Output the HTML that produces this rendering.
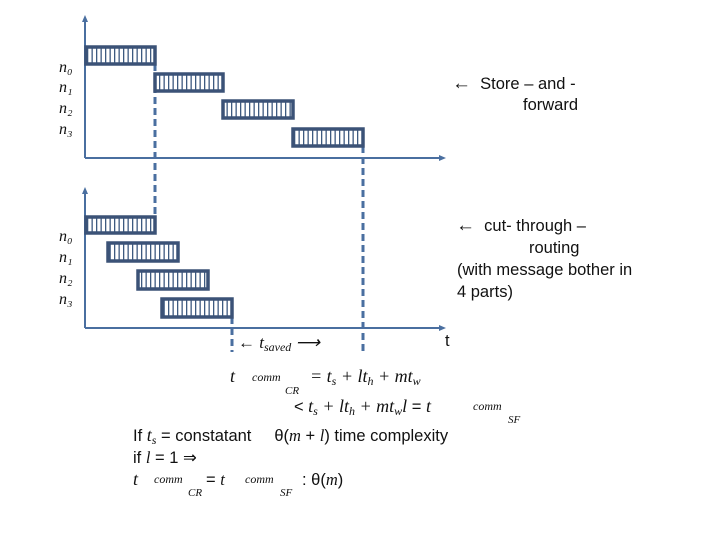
<!DOCTYPE html>
<html><head><meta charset="utf-8"><style>
html,body{margin:0;padding:0;background:#fff;}
svg{display:block}
.s{font-family:"Liberation Sans",sans-serif;font-size:16.5px;fill:#111}
.m{font-family:"Liberation Serif",serif;font-style:italic;fill:#111}
</style></head><body>
<svg width="720" height="540" viewBox="0 0 720 540" xmlns="http://www.w3.org/2000/svg">
<defs>
<pattern id="st" width="4.5" height="10" patternUnits="userSpaceOnUse">
<rect width="4.5" height="10" fill="#fff"/><rect x="1.5" width="1.3" height="10" fill="#3d5a80"/>
</pattern>
</defs>
<g stroke="#4a6fa0" stroke-width="2" fill="none">
<line x1="85" y1="20" x2="85" y2="158"/>
<line x1="85" y1="158" x2="442" y2="158"/>
<line x1="85" y1="192" x2="85" y2="328"/>
<line x1="85" y1="328" x2="442" y2="328"/>
</g>
<g fill="#4a6fa0">
<polygon points="85,15 82,22 88,22"/>
<polygon points="446,158 439,155 439,161"/>
<polygon points="85,187 82,194 88,194"/>
<polygon points="446,328 439,325 439,331"/>
</g>
<g stroke="#4a6fa0" stroke-width="3" stroke-dasharray="7,4" fill="none">
<line x1="155" y1="64" x2="155" y2="217"/>
<line x1="363" y1="146" x2="363" y2="352"/>
<line x1="232" y1="317" x2="232" y2="352"/>
</g>
<g fill="url(#st)" stroke="#3b5277" stroke-width="3.5">
<rect x="86" y="47" width="69" height="17"/>
<rect x="155" y="74" width="68" height="17"/>
<rect x="223" y="101" width="70" height="17"/>
<rect x="293" y="129" width="70" height="17"/>
<rect x="86" y="217" width="69" height="16"/>
<rect x="108" y="243" width="70" height="18"/>
<rect x="138" y="271" width="70" height="18"/>
<rect x="162" y="299" width="70" height="18"/>
</g>
<g class="m" font-size="16">
<text x="59" y="72">n₀</text><text x="59" y="92">n₁</text><text x="59" y="113">n₂</text><text x="59" y="134">n₃</text>
<text x="59" y="241">n₀</text><text x="59" y="262">n₁</text><text x="59" y="283">n₂</text><text x="59" y="304">n₃</text>
</g>
<text class="s" x="452" y="89"><tspan font-size="19">←</tspan>&#160; Store – and -</text>
<text class="s" x="523" y="110">forward</text>
<text class="s" x="456" y="231"><tspan font-size="19">←</tspan>&#160; cut- through –</text>
<text class="s" x="529" y="253">routing</text>
<text class="s" x="457" y="275">(with message bother in</text>
<text class="s" x="457" y="297">4 parts)</text>
<text class="s" x="445" y="346">t</text>
<text class="m" x="238" y="348" font-size="17">← t<tspan font-size="12" dy="3">saved</tspan><tspan dy="-3"> ⟶</tspan></text>
<text class="m" x="230" y="382" font-size="18">t</text>
<text class="m" x="252" y="381" font-size="12">comm</text>
<text class="m" x="285" y="394" font-size="11">CR</text>
<text class="m" x="310" y="382" font-size="18">=  t<tspan font-size="12" dy="3">s</tspan><tspan dy="-3"> + lt</tspan><tspan font-size="12" dy="3">h</tspan><tspan dy="-3"> + mt</tspan><tspan font-size="12" dy="3">w</tspan></text>
<text class="m" x="294" y="412" font-size="18"><tspan class="s" style="font-style:normal">&lt;</tspan> t<tspan font-size="12" dy="3">s</tspan><tspan dy="-3"> + lt</tspan><tspan font-size="12" dy="3">h</tspan><tspan dy="-3"> + mt</tspan><tspan font-size="12" dy="3">w</tspan><tspan dy="-3">l</tspan><tspan class="s" style="font-style:normal"> = </tspan> t</text>
<text class="m" x="473" y="410" font-size="12">comm</text>
<text class="m" x="508" y="423" font-size="11">SF</text>
<text class="s" x="133" y="441" font-size="17.5">If <tspan class="m" font-size="18">t</tspan><tspan class="m" font-size="12" dy="3">s</tspan><tspan dy="-3"> = constatant &#160;&#160;&#160; θ(</tspan><tspan class="m">m</tspan> + <tspan class="m">l</tspan>) time complexity</text>
<text class="s" x="133" y="463" font-size="17.5">if <tspan class="m">l</tspan> = 1 ⇒</text>
<text class="m" x="133" y="485" font-size="18">t</text>
<text class="m" x="154" y="483" font-size="12">comm</text>
<text class="m" x="188" y="496" font-size="11">CR</text>
<text class="s" x="206" y="485" font-size="17.5">= <tspan class="m">t</tspan></text>
<text class="m" x="245" y="483" font-size="12">comm</text>
<text class="m" x="280" y="496" font-size="11">SF</text>
<text class="s" x="302" y="485" font-size="17.5">: θ(<tspan class="m">m</tspan>)</text>
</svg>
</body></html>
